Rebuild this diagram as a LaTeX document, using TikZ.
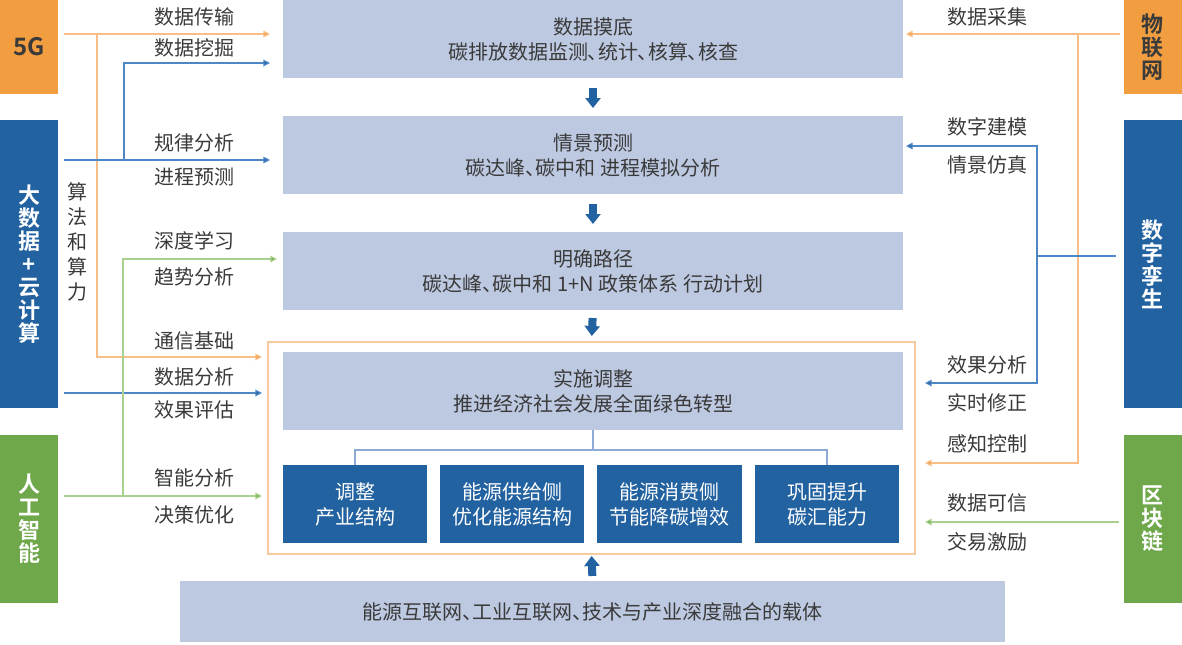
\documentclass[tikz,border=0pt]{standalone}
\usepackage{fontspec}
\setmainfont{Noto Sans CJK SC}[BoldFont={Noto Sans CJK SC Bold}]
\newfontfamily\pfont{Noto Sans CJK SC}[RawFeature=+palt]
\usetikzlibrary{arrows.meta}
\definecolor{lbox}{HTML}{BDC9E1}
\definecolor{dblue}{HTML}{2262A0}
\definecolor{orng}{HTML}{F29E40}
\definecolor{grn}{HTML}{6EA84B}
\definecolor{orline}{HTML}{F8BE86}
\definecolor{blline}{HTML}{4F86C6}
\definecolor{grline}{HTML}{A9D18E}
\definecolor{frameor}{HTML}{F8CB9E}
\definecolor{treel}{HTML}{8EAAD6}
\definecolor{txt}{HTML}{3A3A3A}
\begin{document}
\begin{tikzpicture}[x=0.75pt,y=-0.75pt,
  every node/.style={inner sep=0pt, outer sep=0pt, text=txt},
  lbl/.style={font=\fontsize{15}{18.75}\selectfont, align=center},
  lightbox/.style={fill=lbox, minimum width=465pt, minimum height=58.5pt, align=center, font=\pfont\fontsize{15}{18.75}\selectfont},
  darkbox/.style={fill=dblue, minimum width=108.5pt, minimum height=58.5pt, align=center, text=white, font=\fontsize{15}{18.75}\selectfont},
  sidebox/.style={fill=#1, minimum width=43.5pt, align=center, font=\bfseries\fontsize{16.5}{17.3}\selectfont},
  orl/.style={draw=orline, line width=0.9pt},
  bll/.style={draw=blline, line width=0.9pt},
  grl/.style={draw=grline, line width=0.9pt},
  tipo/.style={-{Triangle[length=5pt,width=5pt,fill=orng]}},
  tipb/.style={-{Triangle[length=5pt,width=5pt,fill=dblue]}},
  tipg/.style={-{Triangle[length=5pt,width=5pt,fill=grn]}},
  bigarr/.style={draw=dblue, line width=6pt, -{Triangle[length=7.5pt,width=11.25pt]}},
]
\useasboundingbox (0,0) rectangle (1182,644);

% side boxes
\node[sidebox=orng, minimum height=70.5pt, font=\bfseries\fontsize{18}{20}\selectfont] (g5) at (29,47) {5G};
\node[sidebox=dblue, minimum height=216pt, text=white] (bd) at (29,264) {大\\数\\据\\+\\云\\计\\算};
\node[sidebox=grn, minimum height=126pt, text=white] (ai) at (29,519) {人\\工\\智\\能};
\node[sidebox=orng, minimum height=70.5pt] (iot) at (1152.5,47) {物\\联\\网};
\node[sidebox=dblue, minimum height=216pt, text=white] (dt) at (1152.5,264) {数\\字\\孪\\生};
\node[sidebox=grn, minimum height=126pt, text=white] (bc) at (1152.5,519) {区\\块\\链};

% frame
\node[draw=frameor, line width=0.9pt, minimum width=485.25pt, minimum height=159pt] (frame) at (591.5,448) {};

% main boxes
\node[lightbox] (b1) at (593,39) {数据摸底\\碳排放数据监测、统计、核算、核查};
\node[lightbox] (b2) at (593,155) {情景预测\\碳达峰、碳中和 进程模拟分析};
\node[lightbox] (b3) at (593,271) {明确路径\\碳达峰、碳中和 1+N 政策体系 行动计划};
\node[lightbox] (b4) at (593,391) {实施调整\\推进经济社会发展全面绿色转型};

\node[darkbox] (d1) at (355,504) {调整\\产业结构};
\node[darkbox] (d2) at (512,504) {能源供给侧\\优化能源结构};
\node[darkbox] (d3) at (669.5,504) {能源消费侧\\节能降碳增效};
\node[darkbox] (d4) at (827,504) {巩固提升\\碳汇能力};

\node[fill=lbox, minimum width=618.75pt, minimum height=45.75pt, font=\pfont\fontsize{15}{18.75}\selectfont] (base) at (592.5,611.5) {能源互联网、工业互联网、技术与产业深度融合的载体};

% tree
\coordinate (ty) at (0,450);
\coordinate (t) at (b4.south |- ty);
\draw[draw=treel, line width=0.9pt] (b4.south) -- (t);
\draw[draw=treel, line width=0.9pt] (d1.north) |- (t) -| (d4.north);

% big arrows
\draw[bigarr, shorten <=7.5pt, shorten >=6pt] (b1.south) -- (b2.north);
\draw[bigarr, shorten <=7.5pt, shorten >=6pt] (b2.south) -- (b3.north);
\draw[bigarr, shorten <=6pt, shorten >=4.5pt] (b3.south) -- (frame.north);
\draw[bigarr, shorten <=3.75pt, shorten >=1.5pt] (base.north) -- (frame.south);

% left labels
\node[lbl] (l1) at (194,17) {数据传输};
\node[lbl] (l2) at (194,48) {数据挖掘};
\node[lbl] (l3) at (194,143) {规律分析};
\node[lbl] (l4) at (194,177) {进程预测};
\node[lbl] (l5) at (194,241) {深度学习};
\node[lbl] (l6) at (194,277) {趋势分析};
\node[lbl] (l7) at (194,341) {通信基础};
\node[lbl] (l8) at (194,377) {数据分析};
\node[lbl] (l9) at (194,410) {效果评估};
\node[lbl] (l10) at (194,478) {智能分析};
\node[lbl] (l11) at (194,515) {决策优化};
\node[lbl] (sf) at (77,242) {算\\法\\和\\算\\力};

% right labels
\node[lbl] (r1) at (987,17) {数据采集};
\node[lbl] (r2) at (987,127) {数字建模};
\node[lbl] (r3) at (987,165) {情景仿真};
\node[lbl] (r4) at (987,365) {效果分析};
\node[lbl] (r5) at (987,403) {实时修正};
\node[lbl] (r6) at (987,444) {感知控制};
\node[lbl] (r7) at (987,503) {数据可信};
\node[lbl] (r8) at (987,542) {交易激励};

% left connectors
\coordinate (oL) at (97,34);
\coordinate (oL2) at (97,357);
\draw[orl, tipo, shorten <=4.5pt, shorten >=9.75pt] (g5.east |- oL) -- (b1.west |- oL);
\draw[orl, tipo, shorten >=4.5pt] (oL) -- (oL2) -- (frame.west |- oL2);

\coordinate (bL) at (124,160);
\coordinate (bL2) at (124,63);
\coordinate (bL3) at (64,393);
\draw[bll, tipb, shorten <=4.5pt, shorten >=9.75pt] (bd.east |- bL) -- (b2.west |- bL);
\draw[bll, tipb, shorten >=9.75pt] (bL) -- (bL2) -- (b1.west |- bL2);
\draw[bll, tipb, shorten <=4.5pt, shorten >=4.5pt] (bd.east |- bL3) -- (frame.west |- bL3);

\coordinate (gL) at (123,496);
\coordinate (gL2) at (123,259);
\draw[grl, tipg, shorten <=4.5pt, shorten >=4.5pt] (ai.east |- gL) -- (frame.west |- gL);
\draw[grl, tipg, shorten >=4.5pt] (gL) -- (gL2) -- (b3.west |- gL2);

% right connectors
\coordinate (oR) at (1078,34);
\coordinate (oR2) at (1078,463);
\draw[orl, tipo, shorten <=3pt, shorten >=2.25pt] (iot.west |- oR) -- (b1.east |- oR);
\draw[orl, tipo, shorten >=7.5pt] (oR) -- (oR2) -- (frame.east |- oR2);

\coordinate (bR) at (1037,256);
\coordinate (bRt) at (1037,146);
\coordinate (bRb) at (1037,383);
\draw[bll, shorten <=6pt] (dt.west |- bR) -- (bR);
\draw[bll, tipb, shorten >=2.25pt] (bRb) -- (bRt) -- (b2.east |- bRt);
\draw[bll, tipb, shorten >=7.5pt] (bRt) -- (bRb) -- (frame.east |- bRb);

\coordinate (gR) at (1119,522);
\draw[grl, tipg, shorten >=7.5pt] (gR) -- (frame.east |- gR);
\end{tikzpicture}
\end{document}
